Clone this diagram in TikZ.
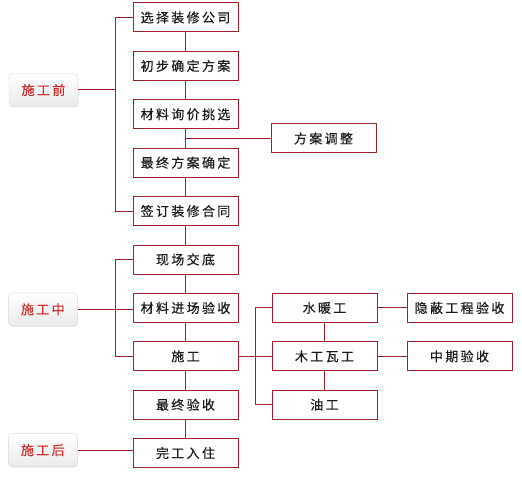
\documentclass[tikz,border=0pt]{standalone}
\usepackage{fontspec}
\setmainfont{Noto Sans CJK SC}[LetterSpace=18, FakeBold=0.2]
\usepackage{tikz}
\usetikzlibrary{positioning,calc,shadows}
\definecolor{boxred}{HTML}{A0202A}
\definecolor{phasered}{HTML}{D42A2A}

\begin{document}
\begin{tikzpicture}[x=1pt, y=-1pt, font=\fontsize{13}{15}\selectfont, node distance=18.4pt,
  b/.style={draw=boxred, line width=1pt, fill=white, minimum width=105pt, minimum height=29pt, inner sep=0pt, text=black!90},
  phase/.style={draw=black!15, rounded corners=4pt, top color=white, bottom color=black!8, minimum width=69pt, minimum height=33pt, inner sep=0pt, text=phasered, drop shadow={opacity=0.15, shadow xshift=0.5pt, shadow yshift=-1pt}},
  link/.style={draw=boxred, line width=1pt}]
\useasboundingbox (0,0) rectangle (522,484);
% main column
\node[b] (s1) at (185.5,17.5) {选择装修公司};
\node[b, below=of s1] (s2) {初步确定方案};
\node[b, below=of s2] (s3) {材料询价挑选};
\node[b, below=of s3] (s4) {最终方案确定};
\node[b, below=of s4] (s5) {签订装修合同};
\node[b, below=of s5] (s6) {现场交底};
\node[b, below=of s6] (s7) {材料进场验收};
\node[b, below=of s7] (s8) {施工};
\node[b, below=of s8] (s9) {最终验收};
\node[b, below=of s9] (s10) {完工入住};
\foreach \x/\y in {s1/s2,s2/s3,s3/s4,s4/s5,s5/s6,s6/s7,s7/s8,s8/s9,s9/s10} {\draw[link] (\x) -- (\y);}
% phases
\node[phase] (pre) at (43.5,90) {施工前};
\node[phase, left=55pt of s7, yshift=-1.5pt] (mid) {施工中};
\node[phase, left=55pt of s10, yshift=3pt] (post) {施工后};
\draw[link] (s1.west) -- ++(-17,0) |- (s5.west);
\draw[link] (pre.east) -- ([xshift=-17pt]s1.west |- pre.east);
\draw[link] (s6.west) -- ++(-17,0) |- (s8.west);
\draw[link] (mid.east) -- (mid.east -| s7.west);
\draw[link] (post.east) -- (post.east -| s10.west);
% plan change
\coordinate (c34) at ($(s3.south)!0.5!(s4.north)$);
\node[b, right=85pt of c34] (adj) {方案调整};
\draw[link] (c34) -- (adj);
% trades
\node[b, right=33pt of s8] (wood) {木工瓦工};
\node[b, above=of wood] (water) {水暖工};
\node[b, below=of wood] (oil) {油工};
\node[b, right=29pt of water] (hidden) {隐蔽工程验收};
\node[b, right=29pt of wood] (midchk) {中期验收};
\draw[link] (s8) -- (wood);
\draw[link] (water.west) -- ++(-16,0) |- (oil.west);
\draw[link] (water) -- (wood);
\draw[link] (wood) -- (oil);
\draw[link] (water) -- (hidden);
\draw[link] (wood) -- (midchk);
\end{tikzpicture}
\end{document}
